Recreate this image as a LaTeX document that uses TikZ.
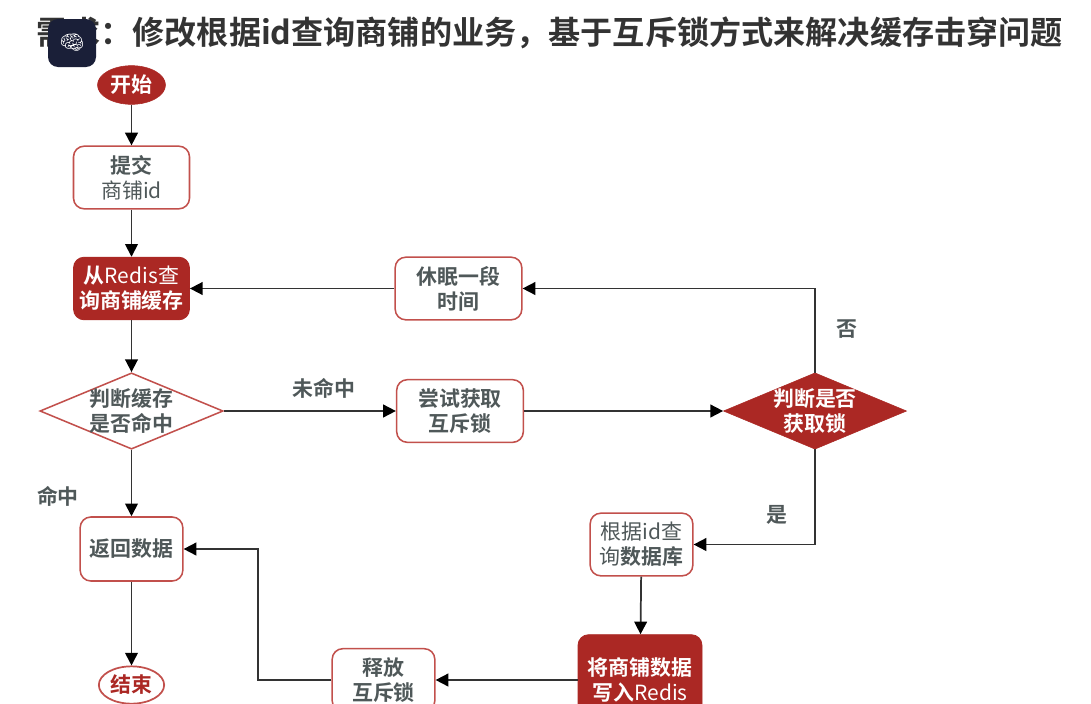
\documentclass[tikz,border=0pt]{standalone}
\usepackage{fontspec}
\usetikzlibrary{shapes.geometric,arrows.meta}
\setmainfont{Noto Sans CJK SC}[BoldFont={Noto Sans CJK SC Bold}]
\newfontfamily\emojifont{Noto Emoji}
\definecolor{brickred}{HTML}{AB2824}
\definecolor{edgered}{HTML}{C2504C}
\definecolor{labelgrey}{HTML}{4F5859}
\definecolor{linegrey}{HTML}{333333}
\definecolor{titlegrey}{HTML}{333333}
\definecolor{iconbg}{HTML}{1A1F38}
\tikzset{
  base/.style={align=center,inner sep=0pt,font=\fontsize{15.7}{18.75}\selectfont},
  box/.style={base,rectangle,rounded corners=8pt,draw=edgered,line width=1.15pt,fill=white,text=labelgrey},
  solidbox/.style={base,rectangle,rounded corners=8pt,draw=brickred,fill=brickred,text=white,line width=0.6pt},
  flow/.style={draw=linegrey,line width=1.3pt,-{Triangle[length=9.5pt,width=9.5pt,color=black]}},
  lbl/.style={base,text=labelgrey,font=\fontsize{15.7}{18.75}\selectfont\bfseries}
}
\begin{document}
\begin{tikzpicture}[x=0.75pt,y=-0.75pt]
\useasboundingbox (0,0) rectangle (1091,703);
\clip (0,0) rectangle (1091,703);
\fill[white] (0,0) rectangle (1091,703);
\node[inner sep=0pt,text=titlegrey,anchor=center] (title) at (549.5,33)
  {\fontsize{24.1}{28}\selectfont\bfseries 需求：修改根据id查询商铺的业务，基于互斥锁方式来解决缓存击穿问题};
\node[rectangle,rounded corners=7.5pt,fill=iconbg,minimum width=36pt,minimum height=36pt,inner sep=0pt,text=white] (icon) at (72,43)
  {\fontsize{15}{15}\emojifont 🧠};

\node[base,ellipse,fill=brickred,draw=brickred,text=white,minimum width=51pt,minimum height=29pt] (start) at (131.5,85) {\textbf{开始}};
\node[box,minimum width=87pt,minimum height=47pt] (submit) at (131.5,177.5) {\textbf{提交}\\商铺id};
\node[solidbox,minimum width=87pt,minimum height=47pt] (query) at (131.5,288.5) {\textbf{从}Redis查\\\textbf{询商铺缓存}};
\node[box,minimum width=95pt,minimum height=47pt] (sleep) at (458.5,288.5) {\textbf{休眠一段}\\\textbf{时间}};
\node[base,diamond,aspect=2.4,inner sep=-0.9pt,draw=edgered,line width=1.15pt,fill=white,text=labelgrey] (hit) at (131.5,411) {\textbf{判断缓存}\\\textbf{是否命中}};
\node[box,minimum width=95pt,minimum height=47pt] (try) at (460,411) {\textbf{尝试获取}\\\textbf{互斥锁}};
\node[base,diamond,aspect=2.4,inner sep=-0.9pt,draw=brickred,fill=brickred,text=white] (got) at (815,411) {\textbf{判断是否}\\\textbf{获取锁}};
\node[box,minimum width=77pt,minimum height=47pt] (db) at (641.5,544.5) {根据id查\\询\textbf{数据库}};
\node[box,minimum width=77pt,minimum height=48pt] (ret) at (131.5,549) {\textbf{返回数据}};
\node[base,ellipse,draw=edgered,line width=1.3pt,fill=white,text=brickred,minimum width=49pt,minimum height=28pt] (end) at (131.5,685) {\textbf{结束}};
\node[box,minimum width=77pt,minimum height=47pt] (release) at (383.5,680) {\textbf{释放}\\\textbf{互斥锁}};
\node[solidbox,minimum width=93pt,minimum height=68pt] (write) at (640,680) {\textbf{将商铺数据}\\\textbf{写入}Redis};

\coordinate (bend) at (258,549);
\draw[flow] (start) -- (submit);
\draw[flow] (submit) -- (query);
\draw[flow] (query) -- (hit);
\draw[flow] (hit) -- (ret);
\draw[flow] (ret) -- (end);
\draw[flow] (sleep) -- (query);
\draw[flow] (hit) -- (try);
\draw[flow] (try) -- (got);
\draw[flow] (got.north) |- (sleep.east);
\draw[flow] (got.south) |- (db.east);
\draw[flow] (db) -- (write);
\draw[flow] (write) -- (release);
\draw[flow] (release.west) -| (bend) -- (ret.east);

\node[lbl] (no) at (847,329) {否};
\node[lbl] (miss) at (324,388) {未命中};
\node[lbl] (yes) at (777,515) {是};
\node[lbl] (hitlabel) at (58,496) {命中};
\end{tikzpicture}
\end{document}
